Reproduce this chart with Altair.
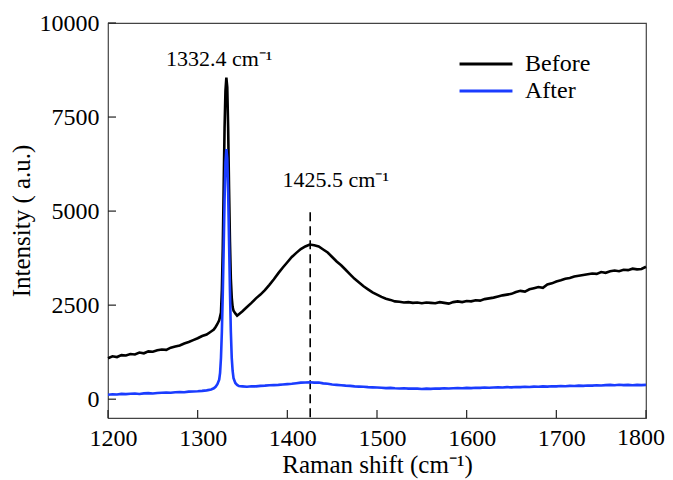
import altair as alt
import pandas as pd

# Raman shift sample positions (cm^-1)
shift = [1200, 1205, 1210, 1215, 1220, 1225, 1230, 1235, 1240, 1245, 1250, 1255,
         1260, 1265, 1270, 1275, 1280, 1285, 1290, 1295, 1300, 1305, 1310, 1315,
         1318, 1320, 1322, 1324,
         1325, 1326, 1327, 1328, 1329, 1330, 1331, 1332, 1333, 1334, 1335, 1336,
         1337, 1338, 1339, 1340,
         1342, 1344, 1346,
         1350, 1355, 1360, 1365, 1370, 1375, 1380, 1385, 1390, 1395, 1400,
         1405, 1410, 1415, 1420, 1425, 1430, 1435, 1440, 1445, 1450,
         1455, 1460, 1465, 1470, 1475, 1480, 1485, 1490, 1495, 1500,
         1505, 1510, 1515, 1520, 1525, 1530, 1535, 1540, 1545, 1550,
         1555, 1560, 1565, 1570, 1575, 1580, 1585, 1590, 1595, 1600,
         1605, 1610, 1615, 1620, 1625, 1630, 1635, 1640, 1645, 1650,
         1655, 1660, 1665, 1670, 1675, 1680, 1685, 1690, 1695, 1700,
         1705, 1710, 1715, 1720, 1725, 1730, 1735, 1740, 1745, 1750,
         1755, 1760, 1765, 1770, 1775, 1780, 1785, 1790, 1795, 1800]

before = [1090, 1140, 1120, 1170, 1160, 1200, 1190, 1240, 1220, 1270, 1260, 1300,
          1320, 1310, 1370, 1400, 1430, 1480, 1520, 1570, 1620, 1680, 1720, 1800,
          1850, 1920, 2000, 2100,
          2200, 2300, 2900, 4000, 5600, 7200, 8200, 8550, 8300, 7200, 5600, 4200,
          3200, 2700, 2450, 2350,
          2280, 2220, 2260,
          2340, 2450, 2560, 2680, 2780, 2900, 3040, 3190, 3350, 3500, 3640,
          3780, 3890, 3990, 4060, 4110, 4090, 4060, 3980, 3900, 3780,
          3660, 3560, 3440, 3320, 3200, 3100, 3000, 2920, 2840, 2780,
          2720, 2670, 2640, 2600, 2590, 2570, 2580, 2560, 2570, 2550,
          2570, 2560, 2550, 2580, 2560, 2540, 2580, 2600, 2580, 2610,
          2600, 2630, 2620, 2660, 2680, 2700, 2730, 2760, 2780, 2800,
          2850, 2880, 2860, 2920, 2950, 2980, 2960, 3050, 3080, 3130,
          3160, 3200, 3220, 3260, 3280, 3300, 3320, 3340, 3330, 3380,
          3360, 3400, 3420, 3400, 3440, 3430, 3470, 3450, 3460, 3520]

after = [120, 130, 125, 140, 135, 145, 150, 140, 155, 160, 150, 165,
         170, 175, 170, 185, 190, 185, 200, 205, 210, 220, 235, 260,
         290, 330, 400, 520,
         700, 1100, 1800, 2800, 4000, 5300, 6300, 6650, 6400, 5500, 4200, 2900,
         1800, 1100, 750, 560,
         430, 380, 350,
         340, 330, 345, 340, 355, 360, 370, 375, 380, 390, 400,
         410, 425, 440, 445, 450, 440, 445, 420, 410, 390,
         380, 370, 360, 355, 340, 335, 330, 320, 315, 310,
         305, 295, 300, 290, 285, 290, 280, 285, 280, 270,
         280, 275, 285, 280, 290, 285, 290, 295, 290, 300,
         295, 305, 300, 310, 305, 310, 315, 310, 320, 315,
         325, 320, 330, 325, 335, 330, 340, 335, 345, 340,
         350, 345, 355, 350, 360, 355, 365, 360, 370, 365,
         375, 380, 370, 385, 375, 380, 370, 380, 375, 380]

series_names = ["Before", "After"]
series_colors = ["#000000", "#1a3cff"]

x_ticks = [1200, 1300, 1400, 1500, 1600, 1700, 1800]
y_ticks = [0, 2500, 5000, 7500, 10000]
x_last_label = [1800]

ann_text = ["1332.4 cm⁻¹", "1425.5 cm⁻¹"]
ann_x = [1324, 1454]
ann_y = [8850, 5650]

dash_x = [1425.5]
dash_top = [4970]
dash_bottom = [-500]

FONT = "Liberation Serif, Times New Roman, serif"

df_before = pd.DataFrame({"x": shift, "y": before, "s": "Before"})
df_after = pd.DataFrame({"x": shift, "y": after, "s": "After"})

xscale = alt.Scale(domain=[1200, 1800], nice=False, zero=False)
yscale = alt.Scale(domain=[-500, 10000], nice=False, zero=False)
xaxis = alt.Axis(title="Raman shift (cm⁻¹)", values=x_ticks, ticks=False, domain=False,
                 grid=False, labelPadding=8, titlePadding=2, format="d",
                 labelFlush=False, labelOverlap=False, labelOffset=5,
                 labelExpr="datum.value == 1800 ? '' : datum.label",
                 labelFont=FONT, titleFont=FONT)
yaxis = alt.Axis(title="Intensity ( a.u.)", values=y_ticks, ticks=False, domain=False,
                 grid=False, labelPadding=9, titlePadding=5, format="d",
                 labelFlush=False, labelOverlap=False,
                 labelFont=FONT, titleFont=FONT)
color = alt.Color("s:N", scale=alt.Scale(domain=series_names, range=series_colors),
                  legend=alt.Legend(title=None, orient="none", legendX=363, legendY=26,
                                    symbolType="M-2,0L2,0", symbolSize=700,
                                    symbolStrokeWidth=3, labelOffset=24,
                                    labelFontSize=24, labelFont=FONT, rowPadding=0,
                                    padding=0, labelColor="black"))

def line(df):
    return alt.Chart(df).mark_line(strokeWidth=2.6).encode(
        x=alt.X("x:Q", scale=xscale, axis=xaxis),
        y=alt.Y("y:Q", scale=yscale, axis=yaxis),
        color=color,
    )

xt = alt.Chart(pd.DataFrame({"x": x_ticks})).mark_rule(color="#222", strokeWidth=1.2).encode(
    x=alt.X("x:Q", scale=xscale, axis=xaxis),
    y=alt.value(395), y2=alt.value(387))
yt = alt.Chart(pd.DataFrame({"y": y_ticks})).mark_rule(color="#222", strokeWidth=1.2).encode(
    y=alt.Y("y:Q", scale=yscale, axis=yaxis),
    x=alt.value(0), x2=alt.value(8))

# last x tick label, kept inside the page's right edge
xlast = alt.Chart(pd.DataFrame({"x": x_last_label, "t": [str(v) for v in x_last_label]})).mark_text(
    font=FONT, fontSize=24, color="black", align="right", baseline="top", dx=19).encode(
    x=alt.X("x:Q", scale=xscale, axis=xaxis),
    y=alt.value(403),
    text="t:N")

dash = alt.Chart(pd.DataFrame({"x": dash_x, "y": dash_top, "y2": dash_bottom})).mark_rule(
    color="black", strokeWidth=1.6, strokeDash=[9, 5]).encode(
    x=alt.X("x:Q", scale=xscale, axis=xaxis),
    y=alt.Y("y:Q", scale=yscale, axis=yaxis),
    y2="y2:Q")

ann = alt.Chart(pd.DataFrame({"x": ann_x, "y": ann_y, "t": ann_text})).mark_text(
    font=FONT, fontSize=22, color="black", align="center", baseline="alphabetic").encode(
    x=alt.X("x:Q", scale=xscale, axis=xaxis),
    y=alt.Y("y:Q", scale=yscale, axis=yaxis),
    text="t:N")

chart = alt.layer(xt, yt, dash, line(df_before), line(df_after), ann, xlast).properties(
    width=538, height=395,
    autosize=alt.AutoSizeParams(type="none"),
    padding={"left": 100, "top": 15, "right": 19, "bottom": 62},
).configure_view(stroke="#444", strokeWidth=1.2).configure_axis(
    labelFont=FONT, titleFont=FONT, labelFontSize=24, titleFontSize=25,
    labelColor="black", titleColor="black", titleFontWeight="normal",
)

chart.save("out.html", embed_options={"renderer": "svg", "actions": False})
